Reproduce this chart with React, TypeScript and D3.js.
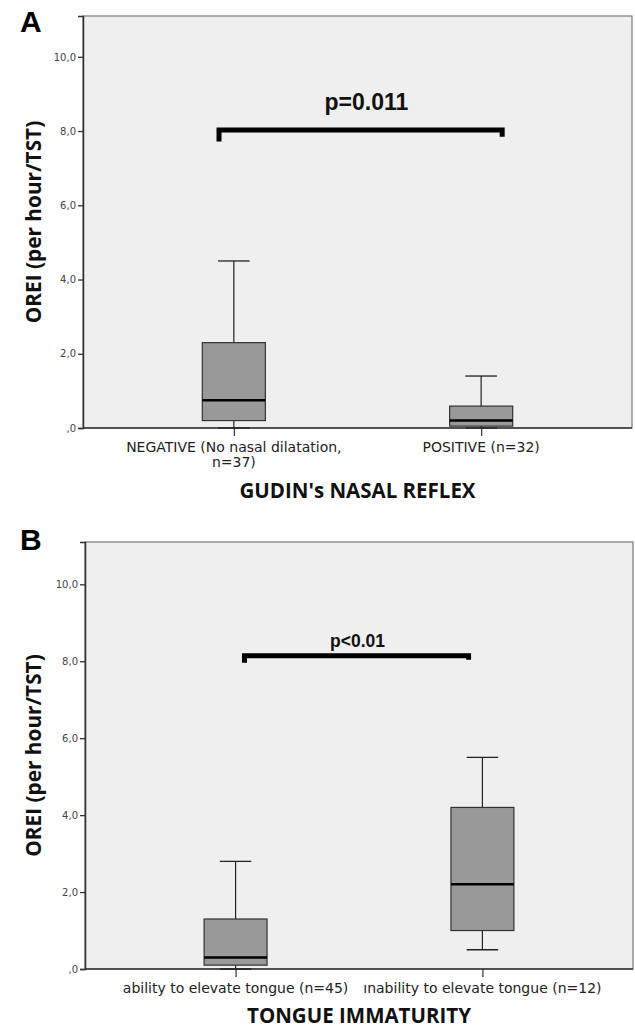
import * as React from 'react';
import * as d3 from 'd3';

// panel A - Gudin's nasal reflex
const groupsA = [['NEGATIVE (No nasal dilatation,', 'n=37)'], ['POSITIVE (n=32)']];
const lowA = [0, 0];
const q1A = [0.2, 0.05];
const medianA = [0.75, 0.2];
const q3A = [2.3, 0.59];
const highA = [4.5, 1.4];

// panel B - tongue immaturity
const groupsB = [['ability to elevate tongue (n=45)'], ['ınability to elevate tongue (n=12)']];
const lowB = [0, 0.5];
const q1B = [0.1, 1.0];
const medianB = [0.3, 2.2];
const q3B = [1.3, 4.2];
const highB = [2.8, 5.5];

const yTicks = [0, 2, 4, 6, 8, 10];
const yMax = 11.1;

const W = 635;
const H = 1028;

const fmt = (v: number) => (v === 0 ? ',0' : v.toFixed(1).replace('.', ','));

function drawPanel(svg: any, cfg: any) {
  const {left, top, right, bottom, groups, low, q1, median, q3, high, letter, title, titleGap, p} = cfg;
  const g = svg.append('g');

  const y = d3.scaleLinear().domain([0, yMax]).range([bottom, top]);
  const x = d3.scalePoint<number>()
    .domain(groups.map((_: any, i: number) => i))
    .range([left, right])
    .padding(0.61);
  // continuous version of the category axis, used for the bracket
  const xi = d3.scaleLinear().domain([0, 1]).range([x(0)!, x(1)!]);
  const boxW = x.step() * 0.255;

  // plot background + frame
  g.append('rect')
    .attr('x', left).attr('y', top)
    .attr('width', right - left).attr('height', bottom - top)
    .attr('fill', '#efefef')
    .attr('stroke', '#7a7a7a')
    .attr('stroke-width', 1.2);

  // y axis
  const yAxis = g.append('g')
    .attr('transform', `translate(${left},0)`)
    .call(d3.axisLeft(y).tickValues(yTicks).tickFormat(fmt as any).tickSize(5).tickPadding(2));
  yAxis.select('.domain').attr('stroke', '#333').attr('stroke-width', 1.5);
  yAxis.selectAll('.tick line').attr('stroke', '#333').attr('stroke-width', 1.3);
  yAxis.selectAll('.tick text')
    .attr('fill', '#444')
    .style('font-family', 'DejaVu Sans')
    .style('font-size', '10px');

  // x axis
  const xAxis = g.append('g')
    .attr('transform', `translate(0,${bottom})`)
    .call(d3.axisBottom(x).tickSize(8).tickFormat(() => '' as any));
  xAxis.select('.domain').attr('stroke', '#333').attr('stroke-width', 1.5).attr('d', `M${left},0H${right}`);
  xAxis.selectAll('.tick line').attr('stroke', '#333').attr('stroke-width', 1.2);

  // category labels
  groups.forEach((lines: string[], i: number) => {
    const t = g.append('text')
      .attr('x', x(i)!)
      .attr('y', bottom + 24)
      .attr('text-anchor', 'middle')
      .attr('fill', '#222')
      .style('font-family', 'DejaVu Sans')
      .style('font-size', '14px');
    lines.forEach((s, j) => {
      t.append('tspan').attr('x', x(i)!).attr('dy', j === 0 ? 0 : 15).text(s);
    });
  });

  // boxes
  const idx = groups.map((_: any, i: number) => i);
  const box = g.selectAll('.box').data(idx).enter().append('g');
  box.append('line')
    .attr('x1', (i: number) => x(i)!).attr('x2', (i: number) => x(i)!)
    .attr('y1', (i: number) => y(high[i])).attr('y2', (i: number) => y(low[i]))
    .attr('stroke', '#222').attr('stroke-width', 1.2);
  box.append('line')
    .attr('x1', (i: number) => x(i)! - boxW / 4).attr('x2', (i: number) => x(i)! + boxW / 4)
    .attr('y1', (i: number) => y(high[i])).attr('y2', (i: number) => y(high[i]))
    .attr('stroke', '#222').attr('stroke-width', 1.3);
  box.append('line')
    .attr('x1', (i: number) => x(i)! - boxW / 4).attr('x2', (i: number) => x(i)! + boxW / 4)
    .attr('y1', (i: number) => y(low[i])).attr('y2', (i: number) => y(low[i]))
    .attr('stroke', '#222').attr('stroke-width', 1.3);
  box.append('rect')
    .attr('x', (i: number) => x(i)! - boxW / 2)
    .attr('y', (i: number) => y(q3[i]))
    .attr('width', boxW)
    .attr('height', (i: number) => y(q1[i]) - y(q3[i]))
    .attr('fill', '#999')
    .attr('stroke', '#333')
    .attr('stroke-width', 1.2);
  box.append('line')
    .attr('x1', (i: number) => x(i)! - boxW / 2).attr('x2', (i: number) => x(i)! + boxW / 2)
    .attr('y1', (i: number) => y(median[i])).attr('y2', (i: number) => y(median[i]))
    .attr('stroke', '#000').attr('stroke-width', 2.5);

  // significance bracket
  const bracket = d3.line<[number, number]>()
    .x(d => xi(d[0]))
    .y(d => y(d[1]));
  g.append('path')
    .datum([[p.from, p.dropL], [p.from, p.level], [p.to, p.level], [p.to, p.dropR]] as [number, number][])
    .attr('d', bracket)
    .attr('fill', 'none')
    .attr('stroke', '#000')
    .attr('stroke-width', 5)
    .attr('stroke-linejoin', 'miter');
  g.append('text')
    .attr('x', xi(p.textAt))
    .attr('y', y(p.textLevel))
    .attr('text-anchor', 'middle')
    .attr('fill', '#111')
    .style('font-family', 'Liberation Sans')
    .style('font-weight', 'bold')
    .style('font-size', `${p.size}px`)
    .text(p.label);

  // axis titles
  g.append('text')
    .attr('transform', `translate(33,${(top + bottom) / 2}) rotate(-90)`)
    .attr('text-anchor', 'middle')
    .attr('dominant-baseline', 'central')
    .attr('fill', '#111')
    .style('font-family', 'Open Sans')
    .style('font-weight', 'bold')
    .style('font-size', '20.8px')
    .text('OREI (per hour/TST)');
  g.append('text')
    .attr('x', (left + right) / 2)
    .attr('y', bottom + titleGap)
    .attr('text-anchor', 'middle')
    .attr('fill', '#111')
    .style('font-family', 'Open Sans')
    .style('font-weight', 'bold')
    .style('font-size', '20.5px')
    .text(title);

  // panel letter
  g.append('text')
    .attr('x', 20)
    .attr('y', letter.y)
    .attr('fill', '#000')
    .style('font-family', 'Liberation Sans')
    .style('font-weight', 'bold')
    .style('font-size', '30px')
    .text(letter.text);
}

export default function App() {
  const ref = React.useRef<SVGSVGElement>(null);

  React.useEffect(() => {
    const svg = d3.select(ref.current);
    svg.selectAll('*').remove();

    drawPanel(svg, {
      left: 83, top: 16, right: 632, bottom: 428,
      groups: groupsA, low: lowA, q1: q1A, median: medianA, q3: q3A, high: highA,
      letter: {text: 'A', y: 32},
      title: "GUDIN's NASAL REFLEX",
      titleGap: 70,
      p: {from: -0.06, to: 1.085, level: 8.03, dropL: 7.72, dropR: 7.85, textAt: 0.536, textLevel: 8.57, label: 'p=0.011', size: 23},
    });

    drawPanel(svg, {
      left: 85, top: 542, right: 633, bottom: 969,
      groups: groupsB, low: lowB, q1: q1B, median: medianB, q3: q3B, high: highB,
      letter: {text: 'B', y: 550},
      title: 'TONGUE IMMATURITY',
      titleGap: 54,
      p: {from: 0.036, to: 0.944, level: 8.14, dropL: 7.96, dropR: 8.04, textAt: 0.494, textLevel: 8.38, label: 'p<0.01', size: 17.5},
    });
  }, []);

  return (
    <svg
      ref={ref}
      width={W}
      height={H}
      style={{position: 'absolute', left: 0, top: 0, background: '#fff'}}
    />
  );
}
